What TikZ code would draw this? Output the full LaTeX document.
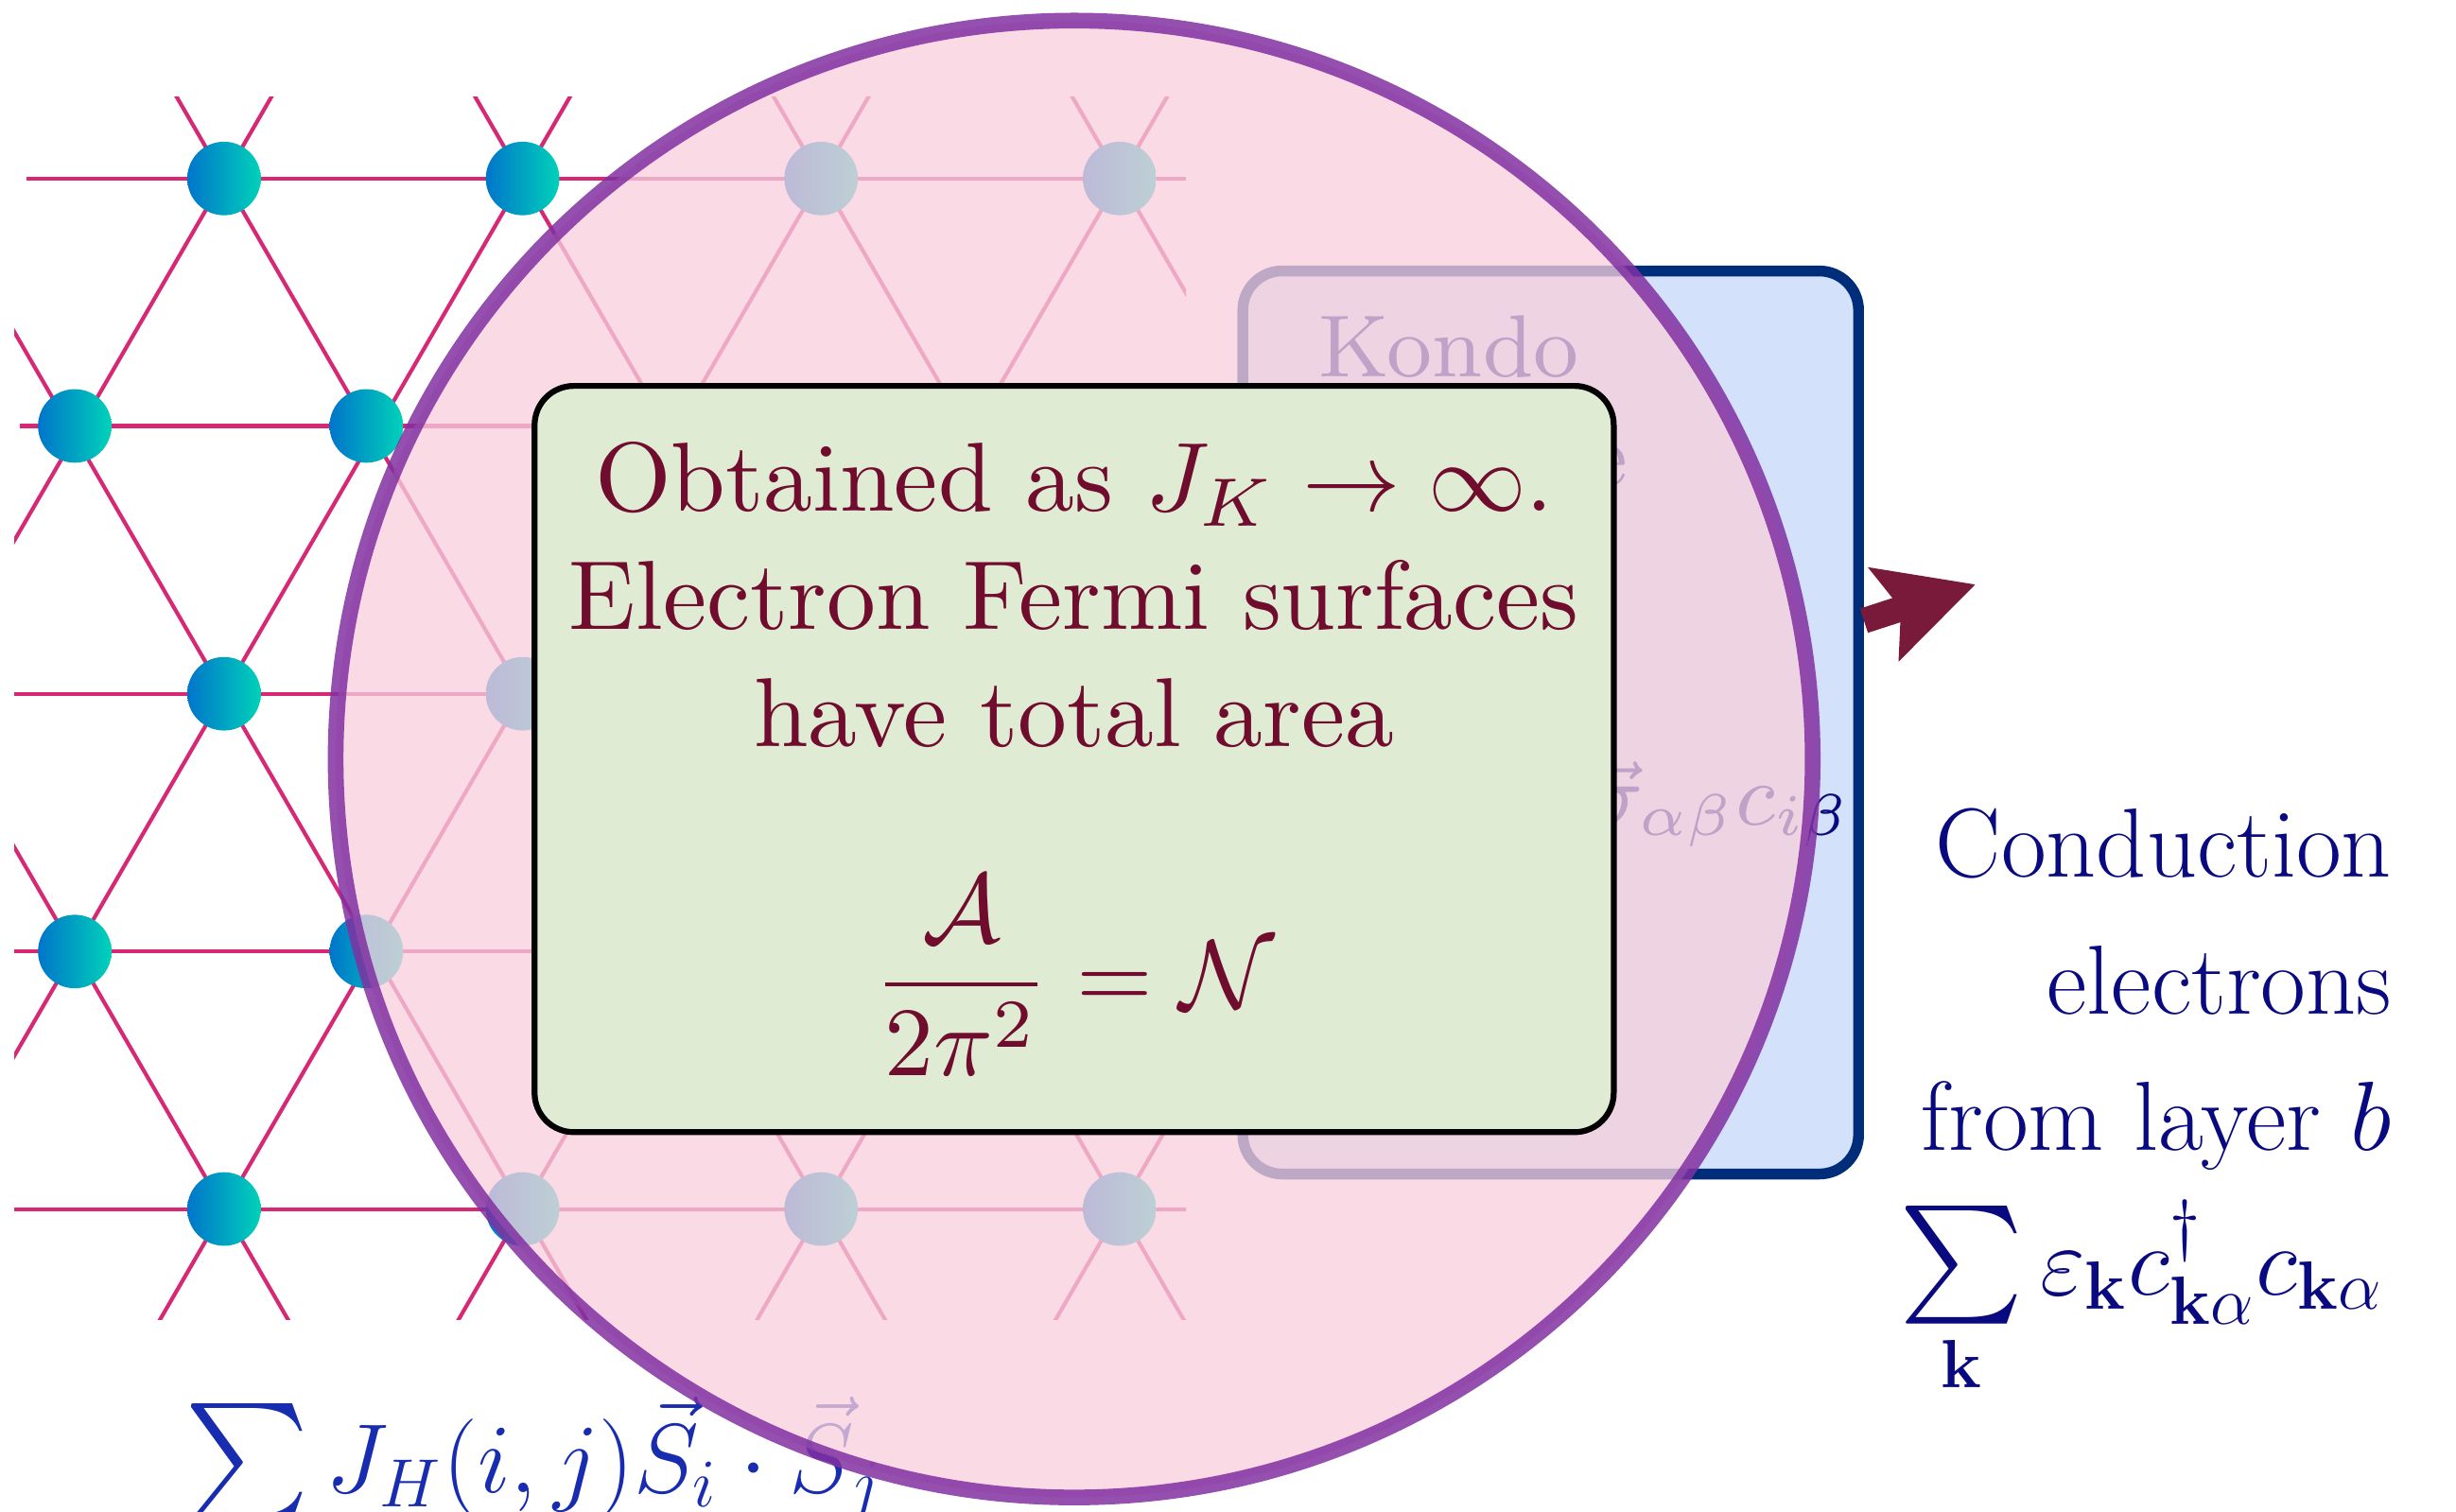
\documentclass[tikz,border=0pt]{standalone}
\usepackage{amsmath,amssymb}
\usepackage{tikz}
\usetikzlibrary{arrows.meta,positioning,calc}
\definecolor{bondcolor}{RGB}{214,40,116}
\definecolor{siteleft}{RGB}{0,117,202}
\definecolor{siteright}{RGB}{0,210,185}
\definecolor{fspink}{RGB}{247,207,221}
\definecolor{fsrim}{RGB}{129,48,161}
\definecolor{kondofill}{RGB}{212,225,250}
\definecolor{kondoedge}{RGB}{0,45,122}
\definecolor{areafill}{RGB}{224,235,212}
\definecolor{areatext}{RGB}{112,12,46}
\definecolor{arrowcolor}{RGB}{122,26,58}
\definecolor{condcolor}{RGB}{10,10,128}
\definecolor{heiscolor}{RGB}{24,44,176}
\newcommand{\layersum}{\mathop{\text{\huge$\sum$}}}
\tikzset{
  bond/.style={bondcolor, line width=0.4pt},
  site/.style={circle, inner sep=0pt, minimum size=7.5pt, left color=siteleft, right color=siteright},
  kondobox/.style={draw=kondoedge, line width=1.1pt, fill=kondofill, rounded corners,
    minimum width=2.207cm, minimum height=3.237cm},
  kondotext/.style={condcolor, font=\small, align=center, inner sep=0pt},
  fermidisk/.style={draw=fsrim, fill=fspink, line width=1.6pt, fill opacity=0.77, draw opacity=0.85},
  areabox/.style={draw=black, line width=0.6pt, fill=areafill, rounded corners, text=areatext,
    align=center, minimum width=3.868cm, minimum height=2.675cm},
  kondoarrow/.style={-{Stealth[length=9.7pt,width=9.7pt,inset=1.7pt]}, arrowcolor, line width=2.6pt},
  layertext/.style={inner sep=0pt, font=\LARGE, scale=0.58},
}

\begin{document}
\begin{tikzpicture}
  \useasboundingbox (0,0) rectangle (8.803,5.417);
  \coordinate (fs center) at (3.85,2.696);
  % spin layer a: triangular lattice
  \begin{scope}
    \clip (0.051,0.685) rectangle (4.251,5.071);
    \foreach \x/\y in {0.095/4.777, 0.071/3.89, 0.051/2.93, 0.051/2.006, 0.051/1.083}
      \draw[bond] (\x,\y) -- (4.3,\y);
    \foreach \i in {-4,...,6} {
      \draw[bond] (0.268+1.07*\i,5.7) -- ++(3.21,-5.541);
      \draw[bond] (1.338+1.07*\i,5.7) -- ++(-3.21,-5.541);
    }
    \foreach \y [count=\r] in {4.777,2.93,1.083}
      \foreach \c in {0,...,3}
        \node[site] (a\r\c) at (0.803+1.07*\c,\y) {};
    \foreach \y [count=\r] in {3.89,2.006}
      \foreach \c in {0,...,3}
        \node[site] (b\r\c) at (0.268+1.045*\c,\y) {};
  \end{scope}
  \node[layertext, heiscolor, anchor=base west] (heisenberg) at (0.66,0.068)
    {$\layersum\limits_{i,j} J_H(i,j)\vec{S}_i\cdot\vec{S}_j$};
  % Kondo coupling
  \node[kondobox] (kondo box) at (5.558,2.827) {};
  \node[kondotext, anchor=north] (kondo text) at (5.193,4.291)
    {Kondo\\ exchange\\ coupling\\ to spins};
  \node[kondotext, anchor=base east] (kondo formula) at (6.64,2.458)
    {$J_K\,\vec{S}_i\cdot c^\dagger_{i\alpha}\vec{\sigma}_{\alpha\beta}c_{i\beta}$};
  \coordinate (arrow tip) at (7.081,3.322);
  \draw[kondoarrow] (kondo box) -- (arrow tip);
  % large Fermi surface
  \draw[fermidisk] (fs center) circle (2.647);
  \node[areabox] (area box) at (fs center)
    {Obtained as $J_K\to\infty$.\\ Electron Fermi surfaces\\ have total area\\[\baselineskip]
     $\displaystyle\frac{\mathcal{A}}{2\pi^2}=\mathcal{N}$};
  % conduction electrons, layer b
  \node[layertext, condcolor, align=right, anchor=north east] (conduction) at (8.576,2.522)
    {Conduction\\[2pt] electrons\\[2pt] from layer $b$};
  \node[layertext, condcolor, anchor=base east] (dispersion) at (8.549,0.776)
    {$\layersum\limits_{\mathbf{k}}\varepsilon_{\mathbf{k}}c^\dagger_{\mathbf{k}\alpha}c_{\mathbf{k}\alpha}$};
\end{tikzpicture}
\end{document}
